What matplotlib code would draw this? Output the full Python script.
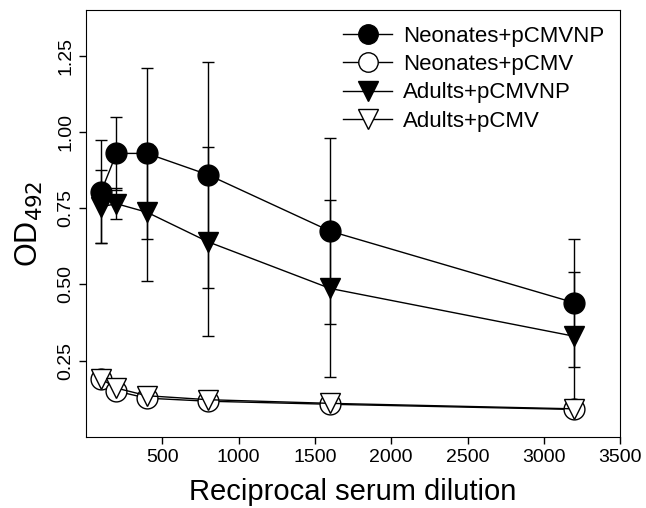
import numpy as np
import matplotlib.pyplot as plt
from matplotlib.lines import Line2D

plt.rcParams['font.family'] = ['Liberation Sans', 'DejaVu Sans']

# reciprocal serum dilution
dilution = [100, 200, 400, 800, 1600, 3200]

# OD492 means and error (+/-)
neo_np = [0.805, 0.93, 0.93, 0.86, 0.675, 0.44]
neo_np_err = [0.17, 0.12, 0.28, 0.37, 0.305, 0.21]
neo_p = [0.19, 0.15, 0.127, 0.117, 0.107, 0.09]
adu_np = [0.755, 0.765, 0.737, 0.64, 0.487, 0.33]
adu_np_err = [0.12, 0.05, 0.225, 0.31, 0.29, 0.21]
adu_p = [0.19, 0.16, 0.135, 0.122, 0.11, 0.092]

fig = plt.figure(figsize=(6.46, 5.08), dpi=100)
ax = fig.add_axes([0.133, 0.140, 0.827, 0.840])

ms = 15
ax.errorbar(dilution, neo_np, yerr=neo_np_err, fmt='-o', color='black',
            markersize=ms, lw=1, elinewidth=1, capsize=4, zorder=3)
ax.plot(dilution, neo_p, '-o', color='black', markerfacecolor='white',
        markersize=ms, lw=1, zorder=4)
ax.errorbar(dilution, adu_np, yerr=adu_np_err, fmt='-v', color='black',
            markersize=ms, lw=1, elinewidth=1, capsize=4, zorder=3)
ax.plot(dilution, adu_p, '-v', color='black', markerfacecolor='white',
        markersize=ms, lw=1, zorder=5)

ax.set_xlim(0, 3500)
ax.set_ylim(0.0, 1.4)
ax.set_xticks([500, 1000, 1500, 2000, 2500, 3000, 3500])
ax.set_yticks([0.25, 0.50, 0.75, 1.00, 1.25])
ax.set_yticklabels(['0.25', '0.50', '0.75', '1.00', '1.25'], rotation=90, va='center')
ax.tick_params(labelsize=14, direction='out', length=5, width=1)

ax.set_xlabel('Reciprocal serum dilution', fontsize=21, labelpad=9)
ax.set_ylabel('OD$_{492}$', fontsize=22, labelpad=9)

handles = [
    Line2D([], [], color='black', marker='o', markersize=14, lw=1),
    Line2D([], [], color='black', marker='o', markerfacecolor='white', markersize=14, lw=1),
    Line2D([], [], color='black', marker='v', markersize=14, lw=1),
    Line2D([], [], color='black', marker='v', markerfacecolor='white', markersize=14, lw=1),
]
labels = ['Neonates+pCMVNP', 'Neonates+pCMV', 'Adults+pCMVNP', 'Adults+pCMV']
ax.legend(handles, labels, loc='upper right', frameon=False, fontsize=16,
          handlelength=2.2, handletextpad=0.5, labelspacing=0.33,
          borderaxespad=0.3)

fig.savefig('out.png', dpi=100)
